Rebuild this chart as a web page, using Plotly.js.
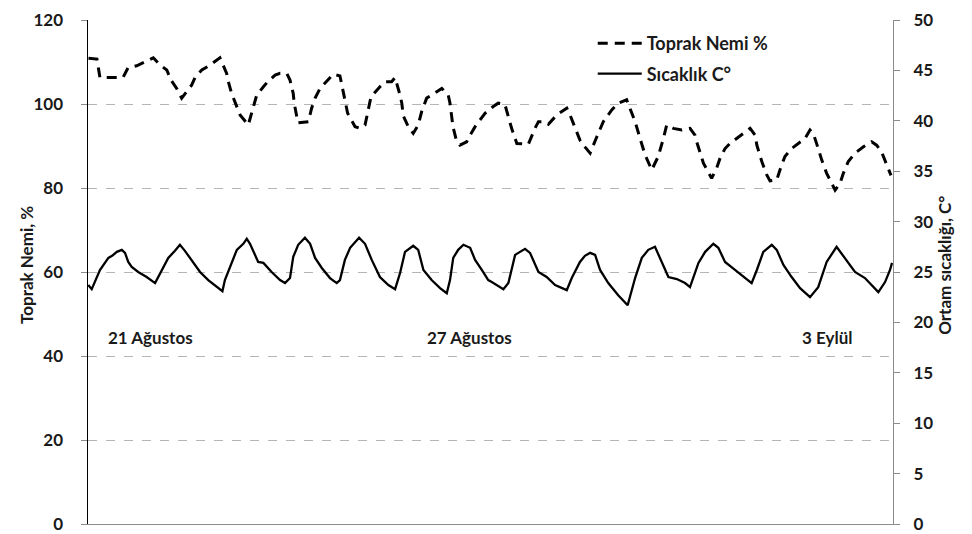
<!DOCTYPE html>
<html>
<head>
<meta charset="utf-8">
<script src="https://cdn.plot.ly/plotly-3.0.1.min.js"></script>
<style>html,body{margin:0;padding:0;background:#fff;}#chart{width:972px;height:534px;}</style>
</head>
<body>
<div id="chart"></div>
<script>
// Hours since start of record
const nemHours = [0.2,3.6,4.8,6.0,14.1,16.1,19.6,23.6,26.3,29.0,31.7,33.4,35.7,37.7,41.7,43.1,45.8,48.7,53.1,55.8,56.5,57.8,59.2,61.2,64.5,67.2,67.9,70.6,72.3,75.3,77.3,80.0,81.3,82.6,83.0,84.5,88.7,90.0,91.4,93.4,95.7,98.7,101.4,102.8,103.4,104.5,107.5,109.5,111.5,112.2,113.9,117.5,119.5,122.2,123.6,125.6,126.3,126.9,128.9,130.9,132.9,134.3,136.3,138.3,140.4,142.4,145.0,145.7,146.9,148.4,149.7,152.4,153.8,155.8,157.8,159.8,163.1,165.1,167.8,169.2,170.5,172.6,177.2,179.9,181.3,183.9,185.3,188.7,190.7,192.7,194.0,196.0,198.0,200.0,202.1,204.8,207.4,210.8,213.4,216.8,218.8,220.2,222.2,224.2,226.9,229.5,231.6,232.9,235.6,239.0,242.3,244.3,245.0,246.3,247.7,251.0,253.0,254.4,256.4,258.4,261.1,262.4,266.5,268.5,269.2,271.2,273.2,274.5,277.2,278.5,280.5,283.2,286.6,288.6,290.6,291.9,293.9,295.3,297.3,300.0,300.7,302.7,304.0,306.0,308.7,312.1,315.4,317.4,319.4,321.5,322.8,323.2];
const toprakNemi = [110.9,110.7,106.3,106.3,106.3,108.6,109.1,110.2,111.0,109.3,108.1,105.7,103.7,101.4,104.5,106.3,108.1,109.1,111.0,107.3,105.3,102.5,100.2,97.4,95.0,100.2,102.1,104.1,105.3,106.9,107.3,107.3,105.7,102.5,100.2,95.5,95.8,99.0,101.4,103.7,105.2,107.1,106.7,102.9,100.9,97.8,94.6,94.2,95.0,97.0,101.7,104.1,105.3,105.3,106.3,102.1,100.2,97.2,94.6,93.0,95.0,98.2,101.4,102.1,102.9,103.7,102.1,100.2,94.6,91.0,90.2,91.0,92.6,94.6,96.2,97.8,99.4,100.2,99.9,97.0,94.2,90.6,90.4,94.2,95.8,95.8,95.2,97.4,98.2,99.0,97.4,94.6,91.4,89.8,88.3,92.2,95.8,98.6,100.2,101.0,98.2,95.8,91.8,87.9,84.3,87.5,91.8,95.0,94.2,93.8,94.2,92.6,91.0,88.3,85.9,82.3,84.7,87.1,89.4,90.6,91.8,92.5,94.2,92.6,90.2,86.3,83.1,81.7,81.9,84.3,87.5,89.4,91.0,91.8,93.8,93.0,89.4,86.7,83.5,80.3,79.5,81.1,83.5,86.3,88.3,89.8,91.0,90.2,88.6,85.5,83.9,83.0];

const sicHours = [0.1,1.5,4.8,8.2,9.7,11.6,13.6,14.9,16.2,17.6,20.2,23.6,27.0,29.7,32.3,35.0,37.0,39.0,41.7,45.1,48.4,51.8,54.1,55.1,57.8,59.9,62.5,63.9,65.2,68.5,70.6,73.9,77.3,79.3,81.3,82.6,84.6,87.3,89.4,91.4,94.1,97.4,100.1,101.4,103.4,105.5,109.1,111.5,114.2,117.5,120.9,123.6,125.6,127.6,130.9,132.9,135.0,138.3,141.7,144.4,145.7,147.0,149.0,151.1,153.8,155.8,158.5,161.1,162.5,167.2,169.2,171.9,175.9,177.9,181.3,184.6,188.0,192.7,194.7,198.0,200.0,202.1,204.1,206.1,209.4,213.4,217.2,220.2,222.9,225.5,228.2,230.9,233.6,237.0,240.3,242.3,245.7,248.4,251.7,253.7,256.4,260.4,264.5,267.1,269.2,271.8,275.2,277.2,279.9,283.2,286.6,290.6,293.9,297.3,301.3,304.7,308.7,312.7,318.1,320.8,322.8,323.6];
const sicaklik = [23.7,23.3,25.2,26.4,26.6,27.0,27.2,26.9,26.0,25.5,25.0,24.5,23.9,25.2,26.4,27.1,27.7,27.1,26.2,25.0,24.2,23.5,23.1,24.2,25.9,27.2,27.8,28.3,27.8,26.0,25.9,25.0,24.2,23.9,24.4,26.5,27.7,28.4,27.8,26.4,25.4,24.4,23.9,24.2,26.2,27.4,28.4,27.8,26.2,24.5,23.7,23.3,24.9,27.0,27.6,27.2,25.2,24.2,23.4,22.9,24.2,26.4,27.2,27.7,27.4,26.2,25.2,24.2,24.0,23.3,23.9,26.7,27.3,26.9,25.0,24.5,23.7,23.2,24.4,26.0,26.6,26.9,26.7,25.2,23.9,22.7,21.7,24.4,26.4,27.2,27.5,26.0,24.5,24.3,23.9,23.5,25.9,27.0,27.8,27.4,26.0,25.2,24.4,23.9,25.2,27.0,27.7,27.2,25.7,24.5,23.4,22.5,23.5,26.0,27.5,26.4,25.0,24.4,23.0,24.0,25.2,25.9];

const dateLabels = ["21 Ağustos", "27 Ağustos", "3 Eylül"];
const dateLabelHours = [7.2, 135.6, 286.6];
const dateLabelLevel = [44.5, 44.5, 44.5];

const leftTicks = [0, 20, 40, 60, 80, 100, 120];
const rightTicks = [0, 5, 10, 15, 20, 25, 30, 35, 40, 45, 50];
const leftTitle = 'Toprak Nemi, %';
const rightTitle = 'Ortam sıcaklığı, C°';

const FONT = "Lato, 'Open Sans', sans-serif";
const tickFont = {family: FONT, size: 17, color: '#1a1a1a', weight: 700};
const titleFont = {family: FONT, size: 17, color: '#1a1a1a', weight: 700};

const traces = [
  {x: nemHours, y: toprakNemi, name: 'Toprak Nemi %', type: 'scatter', mode: 'lines', legendgroup: 'a',
   line: {color: '#000', width: 3, dash: '10px,7px'}, yaxis: 'y'},
  {x: sicHours, y: sicaklik, name: 'Sıcaklık C°', type: 'scatter', mode: 'lines', legendgroup: 'b',
   line: {color: '#000', width: 2.3}, yaxis: 'y2'}
];

const annotations = dateLabels.map((t, i) => ({
  text: t, x: dateLabelHours[i], y: dateLabelLevel[i], xref: 'x', yref: 'y',
  xanchor: 'left', yanchor: 'middle', showarrow: false,
  font: {family: FONT, size: 17, color: '#1a1a1a', weight: 700}
}));
annotations.push({text: leftTitle, textangle: -90, xref: 'paper', yref: 'paper',
  x: -0.0758, y: 0.514, xanchor: 'center', yanchor: 'middle', showarrow: false, font: titleFont});
annotations.push({text: rightTitle, textangle: -90, xref: 'paper', yref: 'paper',
  x: 1.0645, y: 0.514, xanchor: 'center', yanchor: 'middle', showarrow: false, font: titleFont});

const layout = {
  width: 972, height: 534,
  margin: {l: 88, r: 79, t: 20, b: 10},
  paper_bgcolor: '#fff', plot_bgcolor: '#fff',
  showlegend: true,
  legend: {x: 0.627, y: 0.99, xanchor: 'left', yanchor: 'top', bgcolor: 'rgba(0,0,0,0)',
    itemwidth: 44,
    font: {family: FONT, size: 18, color: '#1a1a1a', weight: 700}, tracegroupgap: 4},
  xaxis: {range: [0, 324], showticklabels: false, ticks: '', showgrid: false, zeroline: false,
    showline: true, linecolor: '#8c8c8c', linewidth: 1},
  yaxis: {range: [0, 120], tickvals: leftTicks, ticktext: leftTicks.map(String),
    showgrid: true, gridcolor: '#b5b5b5', griddash: 'dash', gridwidth: 1,
    zeroline: false, showline: true, linecolor: '#000', linewidth: 1.5,
    ticks: 'outside', ticklen: 6, tickcolor: '#8c8c8c', ticklabelstandoff: 14,
    tickfont: tickFont},
  yaxis2: {range: [0, 50], tickvals: rightTicks, ticktext: rightTicks.map(String),
    overlaying: 'y', side: 'right', showgrid: false, zeroline: false,
    showline: true, linecolor: '#8c8c8c', linewidth: 1,
    ticks: 'outside', ticklen: 6, tickcolor: '#8c8c8c', ticklabelstandoff: 10,
    tickfont: tickFont},
  annotations: annotations
};

Plotly.newPlot('chart', traces, layout, {staticPlot: true, displayModeBar: false});
</script>
</body>
</html>
